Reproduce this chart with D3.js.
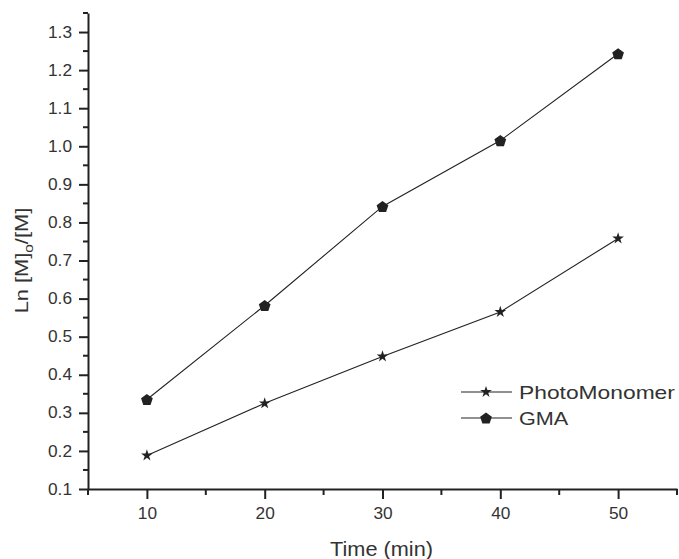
<!DOCTYPE html>
<html>
<head>
<meta charset="utf-8">
<script src="https://cdn.jsdelivr.net/npm/d3@7"></script>
<style>
  html, body { margin: 0; padding: 0; background: #fff; }
  svg { display: block; font-family: "Liberation Sans", Arial, sans-serif; }
</style>
</head>
<body>
<svg id="chart" width="679" height="559"></svg>
<script>
// Polymerisation kinetics: Ln([M]0/[M]) against irradiation time
const times = [10, 20, 30, 40, 50];
const photoMonomer = [0.188, 0.325, 0.448, 0.565, 0.758];
const gma = [0.335, 0.582, 0.842, 1.015, 1.243];
const seriesNames = ["PhotoMonomer", "GMA"];
const xTicks = [10, 20, 30, 40, 50];
const yTicks = [0.1, 0.2, 0.3, 0.4, 0.5, 0.6, 0.7, 0.8, 0.9, 1.0, 1.1, 1.2, 1.3];

const ink = "#222";
const textInk = "#333";
const svg = d3.select("#chart");
const margin = { left: 88, right: 2, top: 13, bottom: 70 };
const W = 679, H = 559;

const x = d3.scaleLinear().domain([5, 55]).range([margin.left, W - margin.right]);
const y = d3.scaleLinear().domain([0.1, 1.35]).range([H - margin.bottom, margin.top]);

// widen a text run horizontally by factor k (the lettering here is set slightly expanded)
function widen(sel, k) {
  sel.each(function () {
    const w = this.getComputedTextLength();
    this.setAttribute("textLength", (w * k).toFixed(1));
    this.setAttribute("lengthAdjust", "spacingAndGlyphs");
  });
}

// x axis: major ticks every 10, minor ticks halfway between
const xAxisG = svg.append("g").attr("transform", `translate(0,${y(0.1)})`);
xAxisG.call(d3.axisBottom(x).tickValues(xTicks).tickFormat(d3.format("d")).tickSize(10).tickSizeOuter(0).tickPadding(9));
xAxisG.selectAll(".minor").data([5, 15, 25, 35, 45, 55]).enter().append("line")
  .attr("x1", d => x(d)).attr("x2", d => x(d)).attr("y1", 0).attr("y2", 6);

// y axis: major ticks every 0.1, minor ticks every 0.05
const yAxisG = svg.append("g").attr("transform", `translate(${x(5)},0)`);
yAxisG.call(d3.axisLeft(y).tickValues(yTicks).tickFormat(d3.format(".1f")).tickSize(9).tickSizeOuter(0).tickPadding(7));
yAxisG.selectAll(".minor").data(d3.range(0.15, 1.36, 0.1)).enter().append("line")
  .attr("x1", -5).attr("x2", 0).attr("y1", d => y(d)).attr("y2", d => y(d));

svg.selectAll(".domain").attr("stroke", ink).attr("stroke-width", 2);
svg.selectAll("g line").attr("stroke", ink).attr("stroke-width", 2);
const tickTexts = svg.selectAll(".tick text").attr("fill", textInk).style("font-size", "16px");
widen(tickTexts, 1.08);

// axis titles
const xTitle = svg.append("text")
  .attr("x", (x(5) + x(55)) / 2 - 1).attr("y", 556)
  .attr("text-anchor", "middle").attr("fill", textInk).style("font-size", "20.5px")
  .text("Time (min)");
widen(xTitle, 1.06);

const yTitle = svg.append("text")
  .attr("transform", `translate(28,${y(0.70)}) rotate(-90) scale(1.18,1)`)
  .attr("text-anchor", "middle").attr("fill", textInk).style("font-size", "18.5px");
yTitle.append("tspan").text("Ln [M]");
yTitle.append("tspan").attr("dy", 5).style("font-size", "13px").text("o");
yTitle.append("tspan").attr("dy", -5).text("/[M]");

// series markers
const star = d3.symbol().type(d3.symbolStar).size(42);
const pentagon = d3.symbol().type({
  draw(ctx, size) {
    const r = Math.sqrt(size);
    for (let i = 0; i < 5; i++) {
      const a = -Math.PI / 2 + i * 2 * Math.PI / 5;
      const px = r * Math.cos(a), py = r * Math.sin(a) + r * 0.1;
      if (i === 0) ctx.moveTo(px, py); else ctx.lineTo(px, py);
    }
    ctx.closePath();
  }
}).size(38);

const series = [
  { name: seriesNames[0], values: photoMonomer, symbol: star },
  { name: seriesNames[1], values: gma, symbol: pentagon }
];

const line = d3.line().x(d => x(d[0])).y(d => y(d[1]));

series.forEach(s => {
  const pts = times.map((t, i) => [t, s.values[i]]);
  svg.append("path").datum(pts).attr("d", line)
    .attr("fill", "none").attr("stroke", ink).attr("stroke-width", 1.1);
  svg.selectAll(null).data(pts).enter().append("path")
    .attr("d", s.symbol)
    .attr("transform", d => `translate(${x(d[0])},${y(d[1])})`)
    .attr("fill", ink);
});

// legend
const legend = svg.append("g").attr("transform", "translate(461,392)");
series.forEach((s, i) => {
  const g = legend.append("g").attr("transform", `translate(0,${i * 26})`);
  g.append("line").attr("x1", 0).attr("x2", 51).attr("y1", 0).attr("y2", 0)
    .attr("stroke", ink).attr("stroke-width", 1.1);
  g.append("path").attr("d", s.symbol).attr("transform", "translate(25,0)").attr("fill", ink);
  const t = g.append("text").attr("x", 58).attr("y", 6.5).attr("fill", textInk)
    .style("font-size", "19px").text(s.name);
  widen(t, i === 0 ? 1.2 : 1.14);
});
</script>
</body>
</html>
